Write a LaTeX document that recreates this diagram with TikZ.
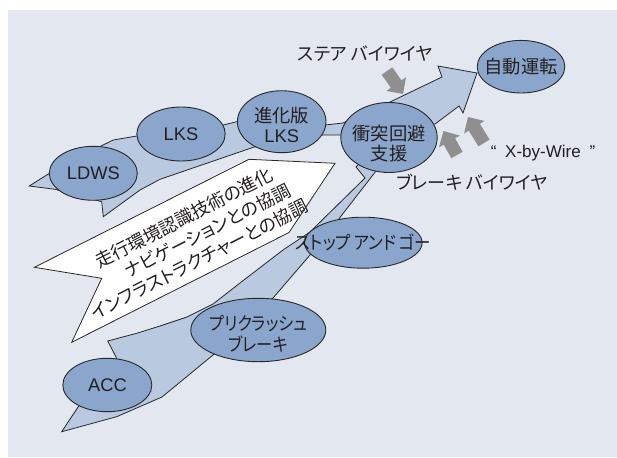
\documentclass[tikz,border=0pt]{standalone}
\usepackage{graphicx}
\usepackage{fontspec}
\setmainfont{Liberation Sans}
\newfontfamily\jp[RawFeature=+palt]{Noto Sans CJK JP}
\usetikzlibrary{shapes.geometric}
\definecolor{bgc}{RGB}{227,231,240}
\definecolor{elc}{RGB}{139,166,204}
\definecolor{bandc}{RGB}{184,201,224}
\definecolor{arrc}{RGB}{143,143,143}
\definecolor{txt}{RGB}{35,31,32}
\definecolor{edgec}{RGB}{40,40,40}
\tikzset{
  oval/.style={ellipse, draw=edgec, line width=0.9pt, fill=elc, inner sep=0pt},
  otext/.style={text=txt, inner sep=0pt, align=center, font=\fontsize{18.3}{20.7}\selectfont},
  band/.style={draw=edgec, line width=0.8pt, fill=bandc, line join=miter},
  lbl/.style={text=txt, inner sep=0pt, font=\jp\fontsize{18}{20}\selectfont},
  wtext/.style={text=txt, inner sep=0pt, rotate=27, align=center, font=\jp\fontsize{18}{22}\selectfont},
  pics/garrow/.style={code={
    \fill[arrc] (0,-6.5) -- ({#1-12},-6.5) -- ({#1-12},-12) -- (#1,0) -- ({#1-12},12) -- ({#1-12},6.5) -- (0,6.5) -- cycle;
  }}
}
\begin{document}
\begin{tikzpicture}[x=1pt,y=-1pt]
\useasboundingbox (0,0) rectangle (617,457);
\fill[bgc] (8,10) rectangle (617,457);

% white arrow
\draw[draw=edgec, line width=0.8pt, fill=white] (34.4,267.3) -- (249,159.3) -- (335,163.3) -- (289,232.5) -- (71.7,342.3) -- (101.7,278.3) -- cycle;

% upper band
\draw[band] (29.3,186) -- (48.3,174) -- (98.3,147.3) -- (113.3,140) -- (136.7,136) -- (223.3,125) -- (236.7,121.7) -- (325,125) -- (343,123) -- (390,102) -- (442,77) -- (438,66) -- (477,73) -- (463,113) -- (459,106) -- (435,124) -- (342,135) -- (323,135) -- (253.3,147.3) -- (160,179.3) -- (140,190) -- (103.3,216.7) -- (101.7,201.7) -- (55,189.3) -- cycle;

% lower band
\draw[band] (61.7,431.7) -- (78.3,406.7) -- (116.7,358.3) -- (107.7,341) -- (136.7,333.3) -- (160,326) -- (187,317) -- (213,304) -- (240,283) -- (283,250) -- (310,232) -- (365,178) -- (356,167) -- (372,150) -- (376,171) -- (338,220) -- (310,255) -- (273,298) -- (213,355) -- (162,397) -- (116.7,416.7) -- cycle;

% ellipses
\node[oval, minimum width=88pt, minimum height=54pt] (ldws) at (93.3,173.3) {};
\node[oval, minimum width=88.4pt, minimum height=54pt] (lks) at (181,134) {};
\node[oval, minimum width=88.6pt, minimum height=62pt] (slks) at (281.7,121.7) {};
\node[oval, minimum width=96.4pt, minimum height=70pt] (avoid) at (389,137.5) {};
\node[oval, minimum width=87.6pt, minimum height=52.6pt] (auto) at (521,66.7) {};
\node[oval, minimum width=117.6pt, minimum height=51pt] (sg) at (363.3,242.7) {};
\node[oval, minimum width=135pt, minimum height=63.4pt] (pcs) at (258.3,330) {};
\node[oval, minimum width=89pt, minimum height=53.4pt] (acc) at (107.3,385) {};

% ellipse texts
\node[otext] (ldwst) at (93.3,173.3) {LDWS};
\node[otext] (lkst) at (181,134) {LKS};
\node[otext] (slkst) at (281.7,125) {{\jp 進化版}\\LKS};
\node[otext] (avoidt) at (389,143.5) {{\jp 衝突回避}\\{\jp 支援}};
\node[otext] (autot) at (521,67) {\jp 自動運転};
\node[otext] (sgt) at (363,242.5) {\scalebox{0.9}[1]{\jp ストップ\hspace{3pt}アンド\hspace{3pt}ゴー}};
\node[otext] (pcst) at (258.3,333.5) {\scalebox{0.88}[1]{\jp プリクラッシュ}\\\scalebox{0.88}[1]{\jp ブレーキ}};
\node[otext] (acct) at (107.5,385) {ACC};

% gray arrows
\pic[rotate=-55] at (387,71) {garrow=28};
\pic[rotate=119.4] at (457,155) {garrow=27.5};
\pic[rotate=121.6] at (484,143) {garrow=30.5};

% labels
\node[lbl] (steer) at (365,53.3) {ステア バイワイヤ};
\node[lbl] (brake) at (472,182.3) {ブレーキ バイワイヤ};
\node[text=txt, inner sep=0pt, font=\fontsize{17}{19}\selectfont] (xbw) at (543,152.7) {“\hspace{4pt} X-by-Wire\hspace{4pt} ”};

% white arrow text
\node[wtext] (wtx) at (194,237.6) {走行環境認識技術の進化\\\hspace*{30pt}ナビゲーションとの協調\\インフラストラクチャーとの協調\hspace*{10pt}};
\end{tikzpicture}
\end{document}
